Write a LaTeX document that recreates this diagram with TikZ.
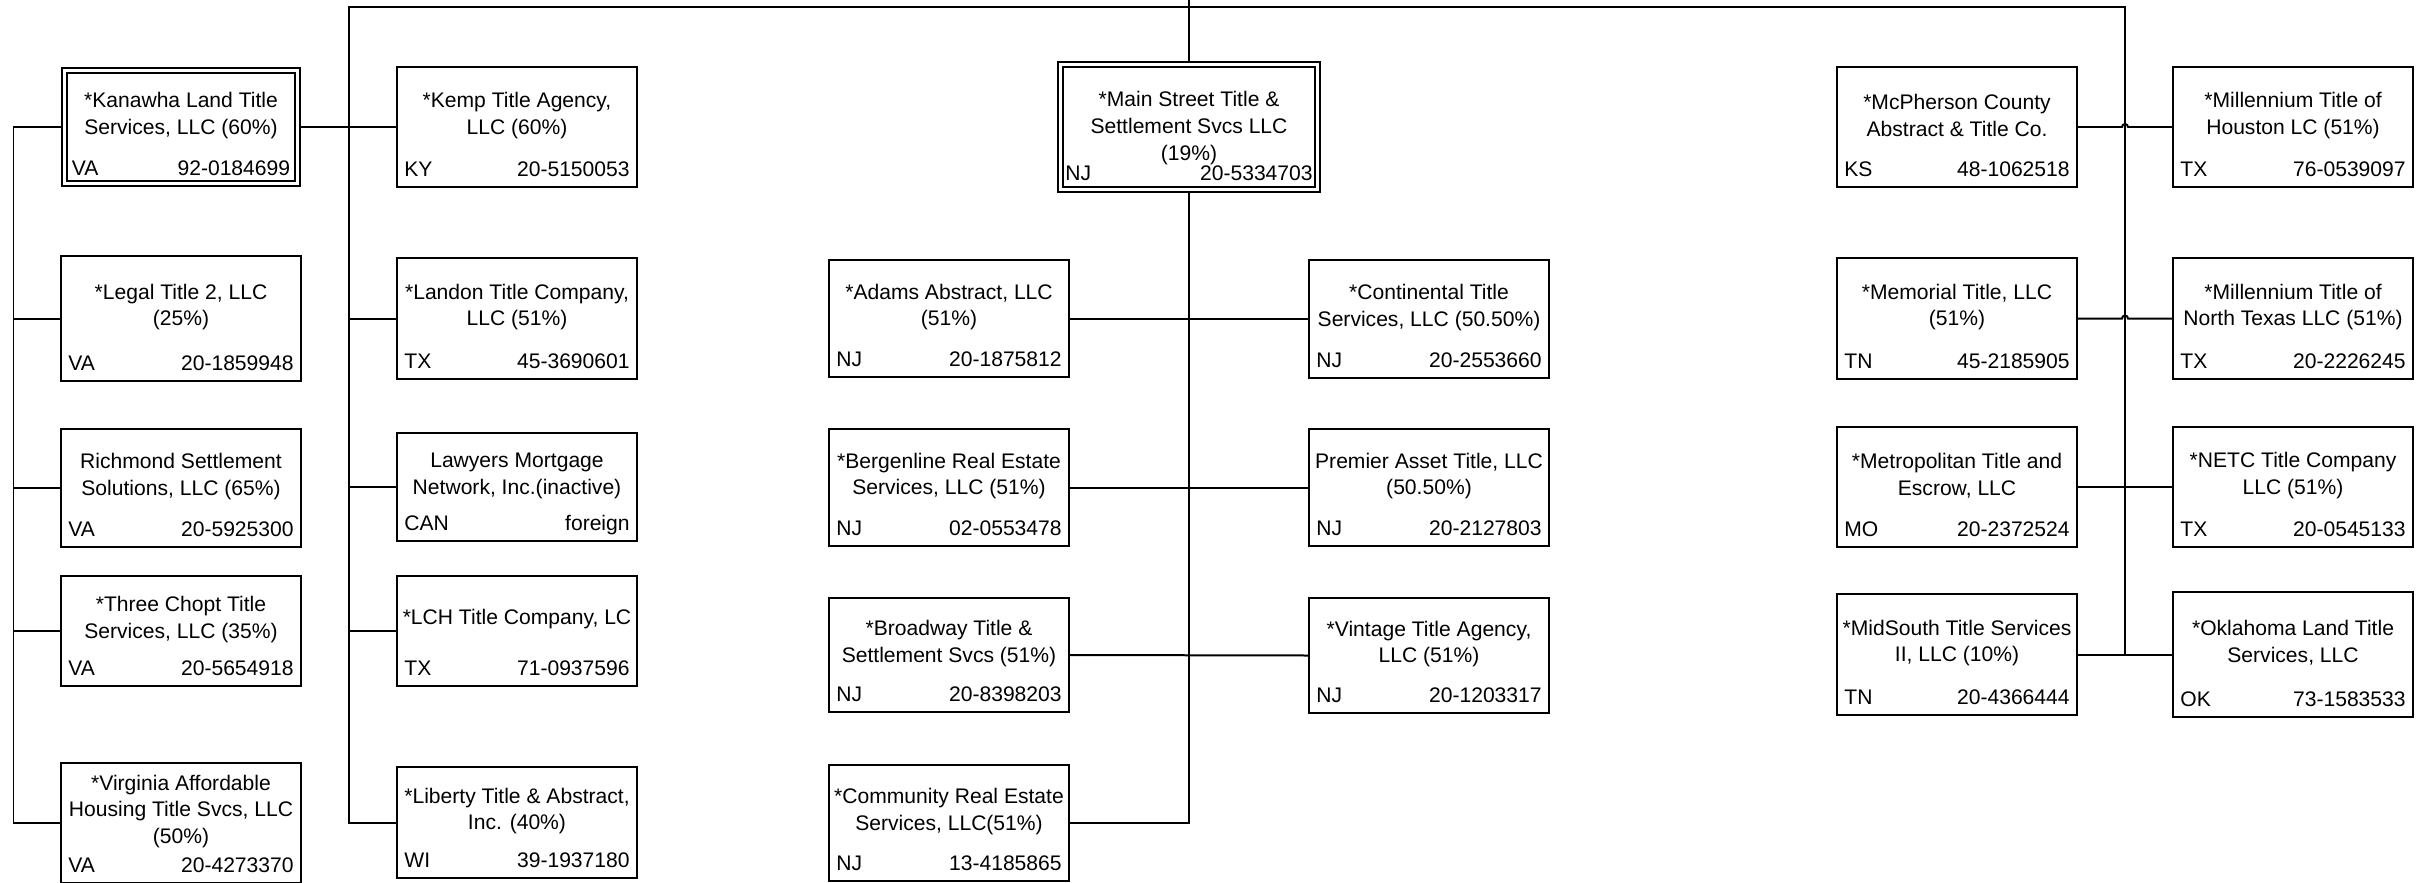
\documentclass[tikz,border=0pt]{standalone}
\usepackage{fontspec}
\setmainfont{Liberation Sans}
\tikzset{
	firm/.style = {draw, line width = 0.04cm, minimum width = 4.8cm, inner sep = 0pt},
	parent/.style = {firm, double, double distance = 0.06cm, line width = 0.035cm, outer sep = 0.07cm},
	firmname/.style = {align = center, inner sep = 0pt, font = \fontsize{12}{15.3}\selectfont},
	firmtag/.style = {inner sep = 0pt, font = \fontsize{12}{15.3}\selectfont},
	link/.style = {line width = 0.04cm},
}
% box name, x, y, height, title, state, EIN
\newcommand{\firmbox}[7]{%
	\node[firm, minimum height = #4*0.02cm] (#1) at (#2, #3) {};
	\node[firmname] at ([yshift = 0.23cm]#1.center) {#5};
	\node[firmtag, anchor = base west] at ([shift = {(0.16cm, 0.23cm)}]#1.south west) {#6};
	\node[firmtag, anchor = base east] at ([shift = {(-0.16cm, 0.23cm)}]#1.south east) {#7};
}
\begin{document}
\begin{tikzpicture}[x = 0.02cm, y = -0.02cm]
		\useasboundingbox (0, 0) rectangle (2422, 882);
		%%%%%%%%%%%%%
		\node[parent, minimum width = 4.67cm, minimum height = 2.27cm] (kanawha) at (181, 127) {};
		\node[firmname] at ([yshift = 0.23cm]kanawha.center) {*Kanawha Land Title\\Services, LLC (60\%)};
		\node[firmtag, anchor = base west] at ([shift = {(0.215cm, 0.235cm)}]kanawha.south west) {VA};
		\node[firmtag, anchor = base east] at ([shift = {(-0.215cm, 0.235cm)}]kanawha.south east) {92-0184699};
		\firmbox{legal}{181}{318.5}{125}{*Legal Title 2, LLC\\(25\%)}{VA}{20-1859948}
		\firmbox{richmond}{181}{488}{118}{Richmond Settlement\\Solutions, LLC (65\%)}{VA}{20-5925300}
		\firmbox{threechopt}{181}{631}{110}{*Three Chopt Title\\Services, LLC (35\%)}{VA}{20-5654918}
		\firmbox{virginia}{181}{823}{120}{*Virginia Affordable\\Housing Title Svcs, LLC\\(50\%)}{VA}{20-4273370}
		%%%%%%%%%%%%%
		\firmbox{kemp}{517}{127}{120}{*Kemp Title Agency,\\LLC (60\%)}{KY}{20-5150053}
		\firmbox{landon}{517}{318.5}{121}{*Landon Title Company,\\LLC (51\%)}{TX}{45-3690601}
		\firmbox{lawyers}{517}{487}{108}{Lawyers Mortgage\\Network, Inc.(inactive)}{CAN}{foreign}
		\firmbox{lch}{517}{631}{110}{*LCH Title Company, LC}{TX}{71-0937596}
		\firmbox{liberty}{517}{822.5}{111}{*Liberty Title \& Abstract,\\Inc. (40\%)}{WI}{39-1937180}
		%%%%%%%%%%%%%
		\node[parent, minimum width = 5.15cm, minimum height = 2.51cm] (main) at (1189, 127) {};
		\node[firmname] at ([yshift = -0.02cm]main.center) {*Main Street Title \&\\Settlement Svcs LLC\\(19\%)};
		\node[firmtag, anchor = base west] at ([shift = {(0.165cm, 0.255cm)}]main.south west) {NJ};
		\node[firmtag, anchor = base east] at ([shift = {(-0.165cm, 0.255cm)}]main.south east) {20-5334703};
		\firmbox{adams}{949}{318.5}{117}{*Adams Abstract, LLC\\(51\%)}{NJ}{20-1875812}
		\firmbox{bergenline}{949}{487.5}{117}{*Bergenline Real Estate\\Services, LLC (51\%)}{NJ}{02-0553478}
		\firmbox{broadway}{949}{655}{114}{*Broadway Title \&\\Settlement Svcs (51\%)}{NJ}{20-8398203}
		\firmbox{community}{949}{823}{116}{*Community Real Estate\\Services, LLC(51\%)}{NJ}{13-4185865}
		\firmbox{continental}{1429}{319}{118}{*Continental Title\\Services, LLC (50.50\%)}{NJ}{20-2553660}
		\firmbox{premier}{1429}{487.5}{117}{Premier Asset Title, LLC\\(50.50\%)}{NJ}{20-2127803}
		\firmbox{vintage}{1429}{655.5}{115}{*Vintage Title Agency,\\LLC (51\%)}{NJ}{20-1203317}
		%%%%%%%%%%%%%
		\firmbox{mcpherson}{1957}{127}{120}{*McPherson County\\Abstract \& Title Co.}{KS}{48-1062518}
		\firmbox{memorial}{1957}{318.5}{121}{*Memorial Title, LLC\\(51\%)}{TN}{45-2185905}
		\firmbox{metropolitan}{1957}{487}{120}{*Metropolitan Title and\\Escrow, LLC}{MO}{20-2372524}
		\firmbox{midsouth}{1957}{654.5}{121}{*MidSouth Title Services\\II, LLC (10\%)}{TN}{20-4366444}
		\firmbox{houston}{2293}{127}{120}{*Millennium Title of\\Houston LC (51\%)}{TX}{76-0539097}
		\firmbox{northtexas}{2293}{318.5}{121}{*Millennium Title of\\North Texas LLC (51\%)}{TX}{20-2226245}
		\firmbox{netc}{2293}{487}{120}{*NETC Title Company\\LLC (51\%)}{TX}{20-0545133}
		\firmbox{oklahoma}{2293}{654.5}{125}{*Oklahoma Land Title\\Services, LLC}{OK}{73-1583533}
		%%%%%%%%%%%%%
		\coordinate (top) at (1189, 0);
		\coordinate (barL) at (348.5, 7);
		\coordinate (barR) at (2125, 7);
		\coordinate (kspine) at (13.5, 823);
		%%%%%%%%%%%%%
		\draw [link] (main.north) to (top);
		\draw [link] (liberty.west) -| (barL) -- (barR) |- (oklahoma.west);
		\draw [link] (kanawha.east) to (kemp.west);
		\foreach \f in {landon, lawyers, lch} \draw [link] (\f.west) -- (\f.west -| barL);
		\draw [link] (kanawha.west) -| (kspine) -- (virginia.west);
		\foreach \f in {legal, richmond, threechopt} \draw [link] (\f.west) -- (\f.west -| kspine);
		\draw [link] (main.south) |- (community.east);
		\draw [link] (adams.east) -- (adams.east -| continental.west);
		\draw [link] (bergenline.east) to (premier.west);
		\draw [link] (broadway.east) to (vintage.west);
		\draw [link] (mcpherson.east) -- ([xshift = -0.06cm]mcpherson.east -| barR) arc [start angle = 180, end angle = 0, radius = 0.06cm] -- (houston.west);
		\draw [link] (memorial.east) -- ([xshift = -0.06cm]memorial.east -| barR) arc [start angle = 180, end angle = 0, radius = 0.06cm] -- (northtexas.west);
		\draw [link] (metropolitan.east) to (netc.west);
		\draw [link] (midsouth.east) to (oklahoma.west);
		%%%%%%%%%%%%%%
\end{tikzpicture}
\end{document}
